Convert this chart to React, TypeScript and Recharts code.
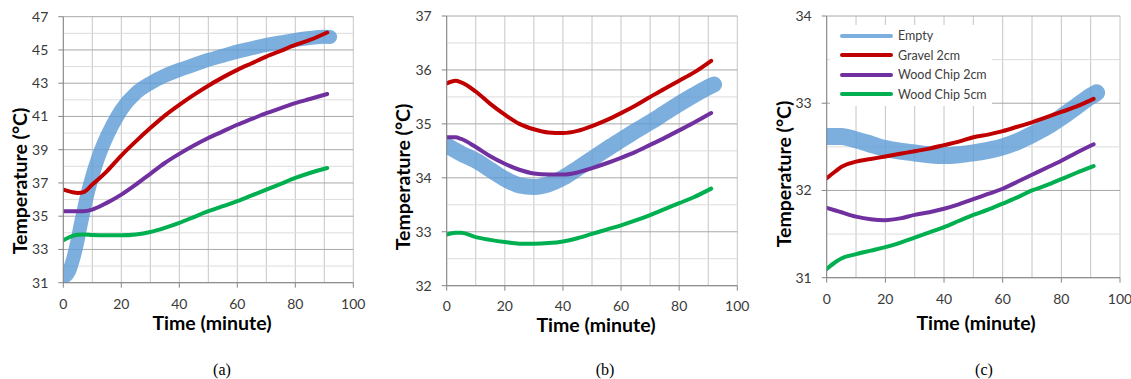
import React from 'react';
import { LineChart, Line, XAxis, YAxis, CartesianGrid, Legend } from 'recharts';

const seriesNames = ['Empty', 'Gravel 2cm', 'Wood Chip 2cm', 'Wood Chip 5cm'];
const seriesColors = ['#5b9bd5', '#c00000', '#7030a0', '#00b050'];

const xTicks = [0, 20, 40, 60, 80, 100];
const xGrid = [0, 10, 20, 30, 40, 50, 60, 70, 80, 90, 100];

// panel (a)
const aMajor = [31, 33, 35, 37, 39, 41, 43, 45, 47];
const aMinor = [32, 34, 36, 38, 40, 42, 44, 46];
const aEmptyTime = [0, 2, 3.5, 5, 6, 7, 8, 10, 12, 14, 17, 20, 25, 30, 35, 40, 45, 50, 55, 60, 65, 70, 75, 80, 85, 90, 92];
const aEmpty = [31.3, 31.7, 32.5, 33.6, 34.5, 35.3, 36.1, 37.4, 38.5, 39.4, 40.5, 41.4, 42.4, 43.0, 43.45, 43.8, 44.1, 44.4, 44.65, 44.9, 45.1, 45.3, 45.45, 45.6, 45.72, 45.8, 45.78];
const aTime = [0, 3, 5, 7, 10, 15, 20, 25, 30, 35, 40, 45, 50, 55, 60, 65, 70, 75, 80, 85, 91];
const aGravel = [36.6, 36.45, 36.4, 36.45, 36.9, 37.7, 38.65, 39.5, 40.3, 41.05, 41.7, 42.3, 42.85, 43.35, 43.8, 44.2, 44.6, 44.95, 45.3, 45.6, 46.05];
const aWood2 = [35.3, 35.3, 35.3, 35.3, 35.4, 35.8, 36.3, 36.9, 37.55, 38.2, 38.75, 39.25, 39.7, 40.1, 40.5, 40.85, 41.2, 41.5, 41.8, 42.05, 42.35];
const aWood5 = [33.55, 33.8, 33.88, 33.9, 33.87, 33.85, 33.85, 33.9, 34.05, 34.3, 34.6, 34.95, 35.3, 35.6, 35.9, 36.25, 36.6, 36.95, 37.3, 37.6, 37.9];

// panel (b)
const bMajor = [32, 33, 34, 35, 36, 37];
const bMinor = [32.5, 33.5, 34.5, 35.5, 36.5];
const bEmptyTime = [0, 5, 10, 15, 20, 25, 30, 35, 40, 45, 50, 55, 60, 65, 70, 75, 80, 85, 90, 92];
const bEmpty = [34.6, 34.45, 34.32, 34.15, 33.98, 33.86, 33.83, 33.88, 34.0, 34.17, 34.35, 34.53, 34.7, 34.87, 35.03, 35.2, 35.37, 35.53, 35.68, 35.73];
const bTime = [0, 3, 5, 10, 15, 20, 25, 30, 35, 40, 45, 50, 55, 60, 65, 70, 75, 80, 85, 91];
const bGravel = [35.75, 35.8, 35.77, 35.6, 35.37, 35.17, 35.0, 34.9, 34.84, 34.83, 34.87, 34.96, 35.07, 35.2, 35.34, 35.5, 35.65, 35.8, 35.95, 36.17];
const bWood2 = [34.75, 34.75, 34.72, 34.57, 34.4, 34.26, 34.15, 34.08, 34.06, 34.06, 34.1, 34.18, 34.27, 34.37, 34.48, 34.61, 34.74, 34.88, 35.02, 35.2];
const bWood5 = [32.95, 32.98, 32.98, 32.9, 32.85, 32.81, 32.78, 32.78, 32.79, 32.82, 32.88, 32.96, 33.04, 33.12, 33.21, 33.31, 33.42, 33.53, 33.64, 33.8];

// panel (c)
const cMajor = [31, 32, 33, 34];
const cMinor = [31.5, 32.5, 33.5];
const cEmptyTime = [0, 5, 10, 15, 20, 25, 30, 35, 40, 45, 50, 55, 60, 65, 70, 75, 80, 85, 90, 92];
const cEmpty = [32.62, 32.62, 32.58, 32.53, 32.48, 32.45, 32.43, 32.41, 32.4, 32.41, 32.43, 32.46, 32.5, 32.56, 32.64, 32.73, 32.84, 32.96, 33.08, 33.12];
const cTime = [0, 3, 5, 10, 15, 20, 25, 30, 35, 40, 45, 50, 55, 60, 65, 70, 75, 80, 85, 91];
const cGravel = [32.14, 32.22, 32.27, 32.33, 32.36, 32.39, 32.42, 32.45, 32.48, 32.52, 32.56, 32.61, 32.64, 32.68, 32.73, 32.78, 32.84, 32.9, 32.96, 33.05];
const cWood2 = [31.8, 31.77, 31.75, 31.7, 31.67, 31.66, 31.68, 31.72, 31.75, 31.79, 31.84, 31.9, 31.96, 32.02, 32.1, 32.18, 32.26, 32.34, 32.43, 32.53];
const cWood5 = [31.1, 31.18, 31.22, 31.27, 31.31, 31.35, 31.4, 31.46, 31.52, 31.58, 31.65, 31.72, 31.78, 31.85, 31.92, 32.0, 32.06, 32.13, 32.2, 32.28];

const toPoints = (t: number[], v: number[]) => t.map((x, i) => ({ t: x, v: v[i] }));

const H = 379;
const tickStyle = { fill: '#3a3a3a', fontSize: 14, fontFamily: 'Lato' };
const titleSize = 19.5;

const panels = [
  {
    caption: '(a)', offset: 0, width: 380, x0: 63.3, x1: 353.3, y0: 16.7, y1: 282.7,
    major: aMajor, minor: aMinor, blueWidth: 14, xTickMargin: 11,
    xTitle: [212, 330], yTitle: [27, 181], capX: 222, legend: false,
    series: [toPoints(aEmptyTime, aEmpty), toPoints(aTime, aGravel), toPoints(aTime, aWood2), toPoints(aTime, aWood5)],
  },
  {
    caption: '(b)', offset: 380, width: 380, x0: 66.7, x1: 357.3, y0: 16, y1: 285.7,
    major: bMajor, minor: bMinor, blueWidth: 16, xTickMargin: 10,
    xTitle: [216, 332], yTitle: [30, 177], capX: 225, legend: false,
    series: [toPoints(bEmptyTime, bEmpty), toPoints(bTime, bGravel), toPoints(bTime, bWood2), toPoints(bTime, bWood5)],
  },
  {
    caption: '(c)', offset: 760, width: 371, x0: 66.7, x1: 360, y0: 16, y1: 277.7,
    major: cMajor, minor: cMinor, blueWidth: 17, xTickMargin: 11,
    xTitle: [216, 329.5], yTitle: [31, 174], capX: 224, legend: true,
    series: [toPoints(cEmptyTime, cEmpty), toPoints(cTime, cGravel), toPoints(cTime, cWood2), toPoints(cTime, cWood5)],
  },
];

function LegendBox({ payload }: any) {
  return (
    <div style={{ paddingTop: 1.3, fontFamily: 'Lato', fontSize: 12.5, color: '#404040' }}>
      {(payload || []).map((entry: any) => (
        <div key={entry.value} style={{ display: 'flex', alignItems: 'center', height: 19.4 }}>
          <div style={{ marginLeft: 10, width: 53, height: 4, borderRadius: 2, background: entry.color, opacity: entry.value === 'Empty' ? 0.8 : 1 }} />
          <span style={{ marginLeft: 5, whiteSpace: 'nowrap' }}>{entry.value}</span>
        </div>
      ))}
    </div>
  );
}

function Panel({ p }: { p: any }) {
  const domain = [p.major[0], p.major[p.major.length - 1]];
  return (
    <div style={{ position: 'absolute', left: p.offset, top: 0 }}>
      <LineChart
        width={p.width}
        height={H}
        margin={{ top: p.y0, right: p.width - p.x1, left: 0, bottom: H - p.y1 - 30 }}
        style={{ fontFamily: 'Lato' }}
      >
        <CartesianGrid horizontal={false} verticalValues={xGrid} stroke="#c6c6c6" />
        <CartesianGrid vertical={false} horizontalValues={p.minor} stroke="#dcdcdc" />
        <CartesianGrid vertical={false} horizontalValues={p.major} stroke="#a8a8a8" />
        <XAxis
          type="number"
          dataKey="t"
          domain={[0, 100]}
          ticks={xTicks}
          allowDataOverflow
          height={30}
          stroke="#868686"
          tickSize={5}
          tickMargin={p.xTickMargin}
          tick={tickStyle}
          label={() => (
            <text x={p.xTitle[0]} y={p.xTitle[1]} textAnchor="middle" fontFamily="Lato" fontWeight="bold" fontSize={titleSize} fill="#000">
              Time (minute)
            </text>
          )}
        />
        <YAxis
          type="number"
          domain={domain}
          ticks={p.major}
          allowDataOverflow
          width={p.x0}
          stroke="#868686"
          tickSize={5}
          tickMargin={10}
          tick={tickStyle}
          label={() => (
            <text
              x={p.yTitle[0]}
              y={p.yTitle[1]}
              textAnchor="middle"
              transform={`rotate(-90, ${p.yTitle[0]}, ${p.yTitle[1]})`}
              fontFamily="Lato"
              fontWeight="bold"
              fontSize={titleSize}
              fill="#000"
            >
              Temperature (°C)
            </text>
          )}
        />
        {p.series.map((pts: any[], i: number) => (
          <Line
            key={seriesNames[i]}
            data={pts}
            dataKey="v"
            name={seriesNames[i]}
            type="monotone"
            stroke={seriesColors[i]}
            strokeOpacity={i === 0 ? 0.8 : 1}
            strokeWidth={i === 0 ? p.blueWidth : 4}
            strokeLinecap="round"
            strokeLinejoin="round"
            dot={false}
            activeDot={false}
            isAnimationActive={false}
          />
        ))}
        {p.legend && (
          <Legend
            layout="vertical"
            align="center"
            verticalAlign="middle"
            wrapperStyle={{ left: 70, top: 25, width: 162, height: 81, background: '#fff' }}
            content={LegendBox}
          />
        )}
      </LineChart>
    </div>
  );
}

export default function App() {
  return (
    <div style={{ position: 'absolute', left: 0, top: 0, width: 1131, height: H, background: '#fff', overflow: 'hidden' }}>
      {panels.map((p) => (
        <Panel key={p.caption} p={p} />
      ))}
      <svg width={1131} height={H} style={{ position: 'absolute', left: 0, top: 0, pointerEvents: 'none' }}>
        {panels.map((p) => (
          <text key={p.caption} x={p.offset + p.capX} y={375} textAnchor="middle" fontFamily="Liberation Serif" fontSize={16} fill="#000">
            {p.caption}
          </text>
        ))}
      </svg>
    </div>
  );
}
